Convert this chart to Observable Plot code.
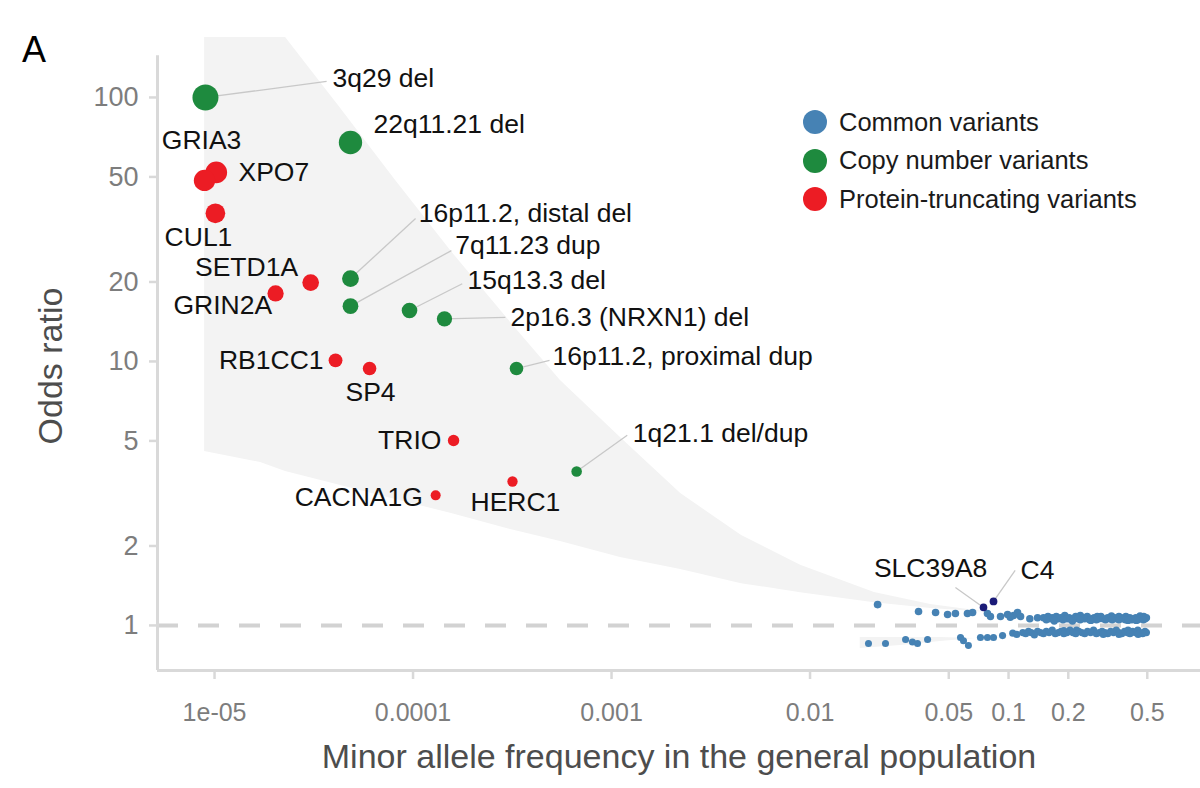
<!DOCTYPE html>
<html><head><meta charset="utf-8">
<script src="https://cdn.jsdelivr.net/npm/d3@7"></script>
<script src="https://cdn.jsdelivr.net/npm/@observablehq/plot@0.6"></script>
<style>
body{margin:0;background:#fff;font-family:"Liberation Sans",Arial,sans-serif;}
#wrap{position:relative;width:1200px;height:788px;overflow:hidden;}
#panel{position:absolute;left:22px;top:32px;font-size:36px;color:#000;line-height:1;}
#legend{position:absolute;left:802px;top:103px;}
.row{display:flex;align-items:center;height:38.5px;font-size:25.5px;color:#1a1a1a;}
.row svg{margin-right:11px;}
</style></head>
<body><div id="wrap"><div id="chart"></div><div id="panel">A</div><div id="legend"></div></div>
<script>
// ---- axis ticks ----
const xTicks = [1e-5, 1e-4, 1e-3, 0.01, 0.05, 0.1, 0.2, 0.5];
const xTickLabels = ["1e-05", "0.0001", "0.001", "0.01", "0.05", "0.1", "0.2", "0.5"];
const yTicks = [1, 2, 5, 10, 20, 50, 100];
const yTickLabels = ["1", "2", "5", "10", "20", "50", "100"];

// ---- power band (MAF, OR lower / upper edge) ----
const bandMaf = [8.91e-6, 1.706e-5, 2.28e-5, 4.32e-5, 8.17e-5, 1.545e-4, 3.10e-4, 5.53e-4, 1.109e-3, 2.23e-3, 4.52e-3, 8.96e-3, 0.0211, 0.0405, 0.0811];
const bandLo  = [4.56, 4.14, 3.83, 3.39, 3.00, 2.66, 2.31, 2.08, 1.81, 1.63, 1.44, 1.33, 1.22, 1.16, 1.12];
const bandHi  = [422, 251, 168.7, 90.8, 48.5, 26.3, 14.05, 8.47, 5.15, 3.16, 2.19, 1.69, 1.333, 1.20, 1.12];
// protective side band
const protMaf = [0.0179, 0.0286, 0.0454, 0.068];
const protLo  = [0.818, 0.84, 0.87, 0.893];
const protHi  = [0.90, 0.90, 0.90, 0.893];

// ---- rare variants ----
const rareName = ["3q29 del", "22q11.21 del", "16p11.2, distal del", "7q11.23 dup", "15q13.3 del", "2p16.3 (NRXN1) del", "16p11.2, proximal dup", "1q21.1 del/dup",
  "GRIA3", "XPO7", "CUL1", "SETD1A", "GRIN2A", "RB1CC1", "SP4", "TRIO", "CACNA1G", "HERC1", "SLC39A8", "C4"];
const rareType = ["cnv","cnv","cnv","cnv","cnv","cnv","cnv","cnv",
  "ptv","ptv","ptv","ptv","ptv","ptv","ptv","ptv","ptv","ptv","hit","hit"];
const rareMaf = [9.0e-6, 4.84e-5, 4.84e-5, 4.84e-5, 9.6e-5, 1.44e-4, 3.32e-4, 6.67e-4,
  8.9e-6, 1.02e-5, 1.01e-5, 3.05e-5, 2.03e-5, 4.07e-5, 6.04e-5, 1.6e-4, 1.3e-4, 3.17e-4, 0.0748, 0.084];
const rareOR = [100, 67.5, 20.6, 16.2, 15.6, 14.5, 9.4, 3.83,
  48.5, 52, 36.4, 19.9, 18.1, 10.1, 9.4, 5.02, 3.11, 3.51, 1.17, 1.233];

// ---- label anchors ----
const labelMaf = [3.93e-5, 6.32e-5, 1.07e-4, 1.63e-4, 1.88e-4, 3.10e-4, 5.04e-4, 1.28e-3,
  8.6e-6, 1.32e-5, 8.3e-6, 1.45e-5, 1.1e-5, 3.54e-5, 6.11e-5, 1.39e-4, 1.12e-4, 3.28e-4, 0.0405, 0.115];
const labelOR = [118, 79, 36.4, 27.5, 20.3, 14.7, 10.4, 5.34,
  68.7, 52, 29.5, 22.7, 16.3, 10.05, 7.63, 5.02, 3.05, 2.92, 1.644, 1.615];
const labelAnchor = ["start","start","start","start","start","start","start","start",
  "middle","start","middle","middle","middle","end","middle","end","end","middle","middle","start"];
// leader line ends (null = no leader)
const leaderMaf = [3.67e-5, null, 1.03e-4, 1.56e-4, 1.77e-4, 2.92e-4, 4.87e-4, 1.2e-3,
  null, null, null, null, null, null, null, null, null, null, 0.054, 0.108];
const leaderOR = [115, null, 34.8, 26.3, 19.7, 14.7, 10.1, 5.25,
  null, null, null, null, null, null, null, null, null, null, 1.393, 1.615];

// ---- common variants ----
const commonMaf = [
  0.0219, 0.0352, 0.0429, 0.0493, 0.054, 0.0621, 0.0659, 0.0783, 0.0811, 0.0911, 0.0989, 0.111, 0.115, 0.140, 0.102, 0.106, 0.128,
  0.150, 0.155, 0.158, 0.162, 0.166, 0.170, 0.174, 0.178, 0.183, 0.188, 0.192, 0.197, 0.202, 0.207, 0.212, 0.218, 0.224, 0.230, 0.236, 0.242,
  0.249, 0.256, 0.263, 0.270, 0.277, 0.285, 0.292, 0.300, 0.308, 0.316, 0.325, 0.333, 0.342, 0.351, 0.360, 0.369, 0.378, 0.388, 0.398, 0.408,
  0.418, 0.428, 0.438, 0.448, 0.458, 0.468, 0.478, 0.488, 0.495, 0.48, 0.44, 0.36, 0.28, 0.21, 0.17, 0.26, 0.33, 0.40, 0.46, 0.23, 0.39,
  0.0197, 0.024, 0.0303, 0.0328, 0.0348, 0.0391, 0.0573, 0.0593, 0.0628, 0.0722, 0.0783, 0.084, 0.0933, 0.105, 0.110,
  0.118, 0.122, 0.126, 0.130, 0.135, 0.140, 0.145, 0.150, 0.155, 0.160, 0.166, 0.172, 0.178, 0.184, 0.190, 0.197, 0.204, 0.211, 0.218, 0.226,
  0.234, 0.242, 0.250, 0.259, 0.268, 0.277, 0.286, 0.296, 0.306, 0.316, 0.327, 0.338, 0.349, 0.360, 0.372, 0.384, 0.396, 0.409, 0.422, 0.435,
  0.448, 0.461, 0.474, 0.487, 0.495, 0.30, 0.40, 0.22, 0.45, 0.19, 0.36];
const commonOR = [
  1.20, 1.13, 1.12, 1.10, 1.11, 1.11, 1.12, 1.11, 1.08, 1.08, 1.10, 1.12, 1.08, 1.07, 1.075, 1.09, 1.06,
  1.07, 1.05, 1.08, 1.06, 1.07, 1.05, 1.08, 1.06, 1.07, 1.05, 1.09, 1.06, 1.07, 1.05, 1.06, 1.08, 1.06, 1.05, 1.07, 1.06,
  1.08, 1.05, 1.06, 1.07, 1.05, 1.06, 1.08, 1.06, 1.05, 1.07, 1.06, 1.05, 1.07, 1.06, 1.05, 1.07, 1.06, 1.05, 1.06, 1.07,
  1.05, 1.06, 1.07, 1.05, 1.06, 1.07, 1.05, 1.06, 1.07, 1.08, 1.045, 1.08, 1.08, 1.04, 1.04, 1.045, 1.085, 1.045, 1.085, 1.09, 1.08,
  0.855, 0.855, 0.885, 0.866, 0.855, 0.885, 0.90, 0.875, 0.84, 0.90, 0.90, 0.90, 0.915, 0.935, 0.925,
  0.94, 0.93, 0.95, 0.94, 0.92, 0.95, 0.94, 0.93, 0.95, 0.94, 0.96, 0.93, 0.94, 0.95, 0.93, 0.94, 0.96, 0.94, 0.93, 0.95,
  0.94, 0.93, 0.95, 0.94, 0.96, 0.93, 0.94, 0.95, 0.94, 0.93, 0.95, 0.94, 0.96, 0.94, 0.93, 0.95, 0.94, 0.93, 0.95, 0.94,
  0.96, 0.94, 0.93, 0.95, 0.94, 0.925, 0.96, 0.96, 0.925, 0.955, 0.925];

// ---- legend ----
const legendLabels = ["Common variants", "Copy number variants", "Protein-truncating variants"];
const colors = {common: "#4682b4", cnv: "#1e8a3e", ptv: "#ec1c24", hit: "#1b1b78"};
const legendColors = [colors.common, colors.cnv, colors.ptv];

// ---- build tables ----
const band = bandMaf.map((m, i) => ({maf: m, lo: bandLo[i], hi: bandHi[i]}));
const prot = protMaf.map((m, i) => ({maf: m, lo: protLo[i], hi: protHi[i]}));
const rare = rareName.map((n, i) => ({name: n, type: rareType[i], maf: rareMaf[i], or: rareOR[i],
  lmaf: labelMaf[i], lor: labelOR[i], anchor: labelAnchor[i], emaf: leaderMaf[i], eor: leaderOR[i]}));
const common = commonMaf.map((m, i) => ({maf: m, or: commonOR[i]}));
const leaders = rare.filter(d => d.emaf != null);
const ptvs = rare.filter(d => d.type === "ptv");
const cnvs = rare.filter(d => d.type === "cnv");
const hits = rare.filter(d => d.type === "hit");
const xTickTable = xTicks.map((v, i) => ({v, label: xTickLabels[i]}));

const xDomain = [5.16e-6, 0.927];
const yDomain = [0.675, 168.7];
const axisColor = "#d9d9d9";
const font = "'Liberation Sans', Arial, sans-serif";

const labelOpts = anchor => ({x: "lmaf", y: "lor", text: "name", textAnchor: anchor, lineAnchor: "middle",
  fontSize: 26.5, fill: "#111"});

const chart = Plot.plot({
  width: 1200, height: 788,
  marginLeft: 157, marginRight: 0, marginTop: 37, marginBottom: 118,
  style: {fontFamily: font, background: "white", overflow: "visible"},
  x: {type: "log", domain: xDomain},
  y: {type: "log", domain: yDomain},
  r: {type: "pow", exponent: 0.275, domain: [0, 100], range: [0, 13]},
  marks: [
    Plot.areaY(band, {x: "maf", y1: "lo", y2: "hi", fill: "#f3f3f3", clip: true}),
    Plot.areaY(prot, {x: "maf", y1: "lo", y2: "hi", fill: "#f3f3f3", clip: true}),
    Plot.ruleY([1], {stroke: "#d2d2d2", strokeWidth: 4, strokeDasharray: "21,20"}),
    Plot.ruleY([yDomain[0]], {x1: xDomain[0], x2: xDomain[1], stroke: axisColor, strokeWidth: 3}),
    Plot.ruleX([xDomain[0]], {y1: yDomain[0], y2: 144, stroke: axisColor, strokeWidth: 3}),
    Plot.axisX(xTicks, {text: xTicks.map(() => ""), tickSize: 9,
      color: "#7d7d7d", stroke: axisColor, strokeWidth: 2.5, label: null}),
    Plot.text(xTickTable, {x: "v", text: "label", frameAnchor: "bottom", dy: 42, lineAnchor: "middle",
      fontSize: 25, fill: "#7d7d7d"}),
    Plot.axisY(yTicks, {text: yTickLabels, tickSize: 8, tickPadding: 11,
      fontSize: 27, color: "#7d7d7d", stroke: axisColor, strokeWidth: 2.5, label: null}),
    Plot.text(["Odds ratio"], {frameAnchor: "left", textAnchor: "middle", dx: -106, dy: 12, rotate: -90, fontSize: 34, fill: "#4d4d4d"}),
    Plot.text(["Minor allele frequency in the general population"], {frameAnchor: "bottom", textAnchor: "middle", dy: 87, lineAnchor: "middle", fontSize: 34, fill: "#4d4d4d"}),
    Plot.link(leaders, {x1: "maf", y1: "or", x2: "emaf", y2: "eor", stroke: "#c8c8c8", strokeWidth: 1.3}),
    Plot.dot(common, {x: "maf", y: "or", r: "or", fill: colors.common}),
    Plot.dot(hits, {x: "maf", y: "or", r: "or", fill: colors.hit}),
    Plot.dot(cnvs, {x: "maf", y: "or", r: "or", fill: colors.cnv}),
    Plot.dot(ptvs, {x: "maf", y: "or", r: "or", fill: colors.ptv}),
    Plot.text(rare.filter(d => d.anchor === "start"), labelOpts("start")),
    Plot.text(rare.filter(d => d.anchor === "middle"), labelOpts("middle")),
    Plot.text(rare.filter(d => d.anchor === "end"), labelOpts("end"))
  ]
});
document.getElementById("chart").appendChild(chart);

const legend = document.getElementById("legend");
legendLabels.forEach((t, i) => {
  const row = document.createElement("div");
  row.className = "row";
  row.innerHTML = `<svg width="26" height="28"><circle cx="13" cy="14" r="12" fill="${legendColors[i]}"/></svg><span>${t}</span>`;
  legend.appendChild(row);
});
</script></body></html>
